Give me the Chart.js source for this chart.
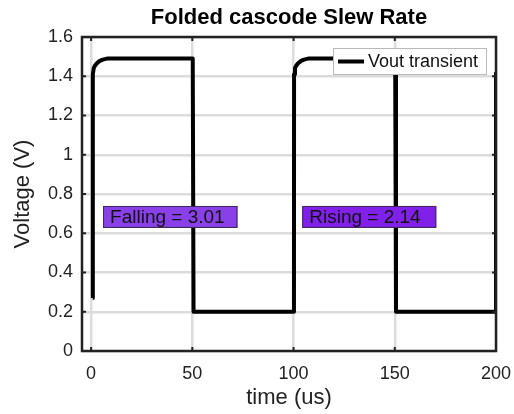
<!DOCTYPE html>
<html>
<head>
<meta charset="utf-8">
<script src="https://cdn.jsdelivr.net/npm/chart.js@4.4.0/dist/chart.umd.min.js"></script>
<style>
  html, body { margin: 0; padding: 0; background: #fff; }
  #wrap { width: 514px; height: 414px; }
</style>
</head>
<body>
<div id="wrap"><canvas id="c" width="514" height="414"></canvas></div>
<script>
// Data (time in us, voltage in V)
const timeUs = [0.8, 0.85, 1.3, 1.8, 2.8, 4.3, 5.8, 7.8, 50.2,
                50.6, 100.2,
                100.25, 100.7, 101.2, 102.2, 103.7, 105.2, 107.2, 150.2,
                150.6, 200, 200];
const voutV  = [0.27, 1.41, 1.441, 1.452, 1.466, 1.478, 1.485, 1.49, 1.49,
                0.2, 0.2,
                1.41, 1.441, 1.452, 1.466, 1.478, 1.485, 1.49, 1.49,
                0.2, 0.2, 1.42];
const xTicks = [0, 50, 100, 150, 200];
const yTicks = [0, 0.2, 0.4, 0.6, 0.8, 1, 1.2, 1.4, 1.6];
const seriesName = 'Vout transient';
const chartTitle = 'Folded cascode Slew Rate';
const annotations = [
  { text: 'Falling = 3.01', x0: 5.9, x1: 72.3, y0: 0.627, y1: 0.739, color: '#8a40e8' },
  { text: 'Rising = 2.14',  x0: 104.3, x1: 170.5, y0: 0.627, y1: 0.739, color: '#8020e8' }
];

const points = timeUs.map((t, i) => ({ x: t, y: voutV[i] }));
const FONT = '"Liberation Sans", Arial, Helvetica, sans-serif';

const boxPlugin = {
  id: 'boxPlugin',
  afterDatasetsDraw(chart) {
    const { ctx, chartArea: a, scales } = chart;
    const xs = scales.x, ys = scales.y;
    ctx.save();
    // title centred over the plot area
    ctx.fillStyle = '#000';
    ctx.font = 'bold 22px ' + FONT;
    ctx.textAlign = 'center';
    ctx.textBaseline = 'alphabetic';
    ctx.fillText(chartTitle, (a.left + a.right) / 2, 24);
    // annotations
    annotations.forEach(an => {
      const l = xs.getPixelForValue(an.x0), r = xs.getPixelForValue(an.x1);
      const t = ys.getPixelForValue(an.y1), b = ys.getPixelForValue(an.y0);
      ctx.fillStyle = an.color;
      ctx.fillRect(l, t, r - l, b - t);
      ctx.strokeStyle = '#3a2a55';
      ctx.lineWidth = 1;
      ctx.strokeRect(l + 0.5, t + 0.5, r - l - 1, b - t - 1);
      ctx.fillStyle = '#111';
      ctx.font = '19px ' + FONT;
      ctx.textBaseline = 'middle';
      ctx.textAlign = 'left';
      ctx.fillText(an.text, l + 7, (t + b) / 2 + 1);
    });
    // inward ticks
    ctx.strokeStyle = '#222';
    ctx.lineWidth = 2;
    const tl = 4;
    xTicks.forEach(v => {
      const px = xs.getPixelForValue(v);
      ctx.beginPath();
      ctx.moveTo(px, a.bottom); ctx.lineTo(px, a.bottom - tl);
      ctx.moveTo(px, a.top); ctx.lineTo(px, a.top + tl);
      ctx.stroke();
    });
    yTicks.forEach(v => {
      const py = ys.getPixelForValue(v);
      ctx.beginPath();
      ctx.moveTo(a.left, py); ctx.lineTo(a.left + tl, py);
      ctx.moveTo(a.right, py); ctx.lineTo(a.right - tl, py);
      ctx.stroke();
    });
    // box
    ctx.strokeStyle = '#222';
    ctx.lineWidth = 2.5;
    ctx.strokeRect(a.left, a.top, a.right - a.left, a.bottom - a.top);
    // legend
    const lx = a.right - 163, ly = a.top + 11, lw = 154, lh = 27;
    ctx.fillStyle = '#fff';
    ctx.fillRect(lx, ly, lw, lh);
    ctx.strokeStyle = '#bbb';
    ctx.lineWidth = 1;
    ctx.strokeRect(lx + 0.5, ly + 0.5, lw - 1, lh - 1);
    ctx.strokeStyle = '#000';
    ctx.lineWidth = 4;
    ctx.beginPath();
    ctx.moveTo(lx + 5, ly + lh / 2); ctx.lineTo(lx + 31, ly + lh / 2);
    ctx.stroke();
    ctx.fillStyle = '#111';
    ctx.font = '18px ' + FONT;
    ctx.textBaseline = 'middle';
    ctx.textAlign = 'left';
    ctx.fillText(seriesName, lx + 35, ly + lh / 2 + 1);
    ctx.restore();
  }
};

new Chart(document.getElementById('c'), {
  type: 'line',
  data: {
    datasets: [{
      label: seriesName,
      data: points,
      borderColor: '#000',
      borderWidth: 4,
      pointRadius: 0,
      tension: 0,
      fill: false,
      borderJoinStyle: 'round',
      borderCapStyle: 'butt'
    }]
  },
  options: {
    responsive: false,
    animation: false,
    devicePixelRatio: 1,
    layout: { padding: { left: 10, right: 18, top: 37, bottom: 3 } },
    plugins: {
      legend: { display: false },
      tooltip: { enabled: false },
      title: { display: false }
    },
    scales: {
      x: {
        type: 'linear',
        min: -4.5,
        max: 200,
        afterBuildTicks: s => { s.ticks = xTicks.map(v => ({ value: v })); },
        afterFit: s => { s.height = 60; s.paddingRight = 0; s.paddingLeft = 0; },
        ticks: { color: '#222', font: { family: FONT, size: 18 }, padding: 12, maxRotation: 0 },
        grid: { color: '#dcdcdc', lineWidth: 2.5, drawTicks: false },
        border: { display: false },
        title: { display: true, text: 'time (us)', color: '#222', font: { family: FONT, size: 22 }, padding: { top: 0, bottom: 0 } }
      },
      y: {
        min: 0,
        max: 1.6,
        afterBuildTicks: s => { s.ticks = yTicks.map(v => ({ value: v })); },
        afterFit: s => { s.width = 72; s.paddingTop = 0; s.paddingBottom = 0; },
        ticks: { color: '#222', font: { family: FONT, size: 18 }, padding: 9, callback: v => String(v) },
        grid: { color: '#dcdcdc', lineWidth: 2.5, drawTicks: false },
        border: { display: false },
        title: { display: true, text: 'Voltage (V)', color: '#222', font: { family: FONT, size: 22 }, padding: { top: 0, bottom: 0 } }
      }
    }
  },
  plugins: [boxPlugin]
});
</script>
</body>
</html>
